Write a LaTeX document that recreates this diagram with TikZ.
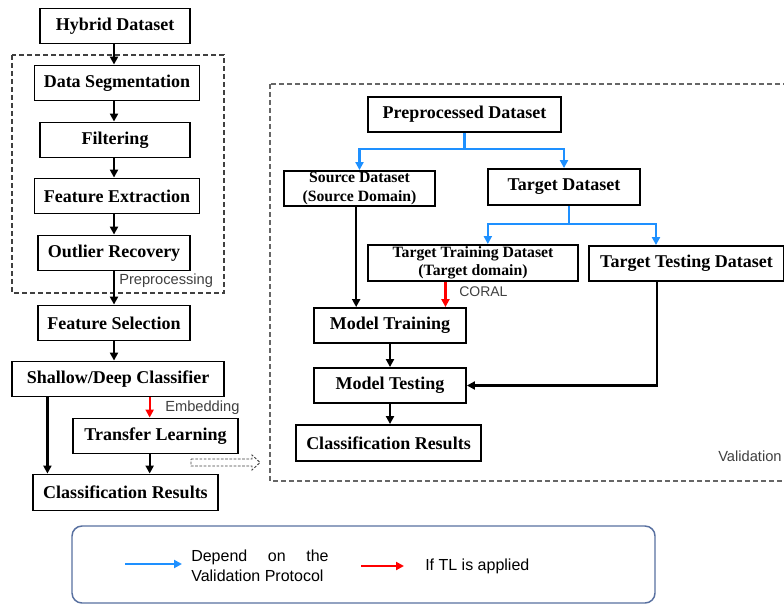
\documentclass[tikz,border=0pt]{standalone}
\usepackage{fontspec}
\setmainfont{Liberation Serif}
\newfontfamily\annofont{Liberation Sans}
\usetikzlibrary{calc,arrows.meta,positioning}

\definecolor{flowblue}{RGB}{30,144,255}
\definecolor{legendframe}{RGB}{88,112,160}

\tikzset{
  procbox/.style={draw, line width=1.4pt, inner sep=0pt, align=center,
    minimum height=26.25pt, font=\fontsize{13.5}{15}\selectfont\bfseries},
  smallbox/.style={procbox, font=\fontsize{11.8}{13.6}\selectfont\bfseries},
  boxw/.style={minimum width=#1*0.75pt},
  flow/.style={line width=1.7pt, -{Triangle[length=6pt,width=6pt]}},
  blueflow/.style={flow, draw=flowblue, line width=1.9pt},
  redflow/.style={flow, draw=red},
  dashbox/.style={draw=black!75, line width=0.8pt, dash pattern=on 3.5pt off 2.5pt},
  anno/.style={font=\annofont\fontsize{11}{13}\selectfont, text=black!75, inner sep=0pt, anchor=west},
  legtext/.style={font=\annofont\fontsize{12}{15}\selectfont, inner sep=0pt, anchor=west, align=left}
}

\begin{document}
\begin{tikzpicture}[x=0.75pt, y=-0.75pt]
  \useasboundingbox (0,0) rectangle (784,606);

  % Left column: pipeline
  \node[procbox, boxw=150] (hyb) at (115,26) {Hybrid Dataset};
  \node[procbox, boxw=165] (seg) at (117,83) {Data Segmentation};
  \node[procbox, boxw=150] (filt) at (115,140) {Filtering};
  \node[procbox, boxw=165] (feat) at (117,196) {Feature Extraction};
  \node[procbox, boxw=152] (outl) at (114,253) {Outlier Recovery};
  \node[procbox, boxw=152] (fsel) at (114,323) {Feature Selection};
  \node[procbox, boxw=212] (clf) at (118,379) {Shallow/Deep Classifier};
  \node[procbox, boxw=165] (tl) at (155.5,436) {Transfer Learning};
  \node[procbox, boxw=185, minimum height=27pt] (res) at (125.5,492.5) {Classification Results};

  % Preprocessing group
  \draw[dashbox] (12,55) rectangle (224,293);
  \node[anno] (preplab) at (119,281) {Preprocessing};

  \draw[flow] (hyb.south -| 114,0) -- (114,0 |- seg.north);
  \draw[flow] (seg.south -| 114,0) -- (114,0 |- filt.north);
  \draw[flow] (filt.south -| 114,0) -- (114,0 |- feat.north);
  \draw[flow] (feat.south -| 114,0) -- (114,0 |- outl.north);
  \draw[flow] (outl.south) -- (fsel.north);
  \draw[flow] (fsel.south) -- (fsel.south |- clf.north);

  % Classifier branches
  \coordinate (c1) at ($(clf.south west)!0.17!(clf.south east)$);
  \draw[flow] (c1) -- (c1 |- res.north);
  \coordinate (c2) at ($(tl.north west)!0.465!(tl.north east)$);
  \draw[redflow] (c2 |- clf.south) -- (c2);
  \node[anno] (emb) at (165,408) {Embedding};
  \draw[flow] (c2 |- tl.south) -- (c2 |- res.north);

  % Dashed hollow arrow to validation
  \draw[black!75, line width=0.7pt, dash pattern=on 2pt off 1.2pt]
    (191,459) -- (252,459) -- (252,455) -- (260,462.5) -- (252,470) -- (252,466) -- (191,466) -- cycle;

  % Validation group
  \draw[dashbox, draw=black!60] (270,84) rectangle (800,481);
  \node[anno] (vallab) at (718,456) {Validation};

  \node[procbox, boxw=193] (pre) at (464.5,114.5) {Preprocessed Dataset};
  \node[smallbox, boxw=151] (src) at (359.5,188.5) {Source Dataset\\(Source Domain)};
  \node[procbox, boxw=152, minimum height=27pt] (tgt) at (564,187) {Target Dataset};
  \node[smallbox, boxw=210, minimum height=27pt] (ttr) at (473,263) {Target Training Dataset\\(Target domain)};
  \node[procbox, boxw=195] (tts) at (686.5,263.5) {Target Testing Dataset};
  \node[procbox, boxw=152] (mtr) at (390,325.5) {Model Training};
  \node[procbox, boxw=152] (mte) at (390,385.5) {Model Testing};
  \node[procbox, boxw=185, minimum height=27pt] (vres) at (388.5,443) {Classification Results};

  % Splits (depend on protocol)
  \draw[blueflow] (pre.south) -- ++(0,16) -| (src.north);
  \draw[blueflow] (pre.south) ++(0,16) -| (tgt.north);
  \coordinate (t1) at ($(ttr.north west)!0.57!(ttr.north east)$);
  \coordinate (t2) at ($(tts.north west)!0.345!(tts.north east)$);
  \draw[blueflow] ([xshift=3.75pt]tgt.south) -- ++(0,18) -| (t1);
  \draw[blueflow] ([xshift=3.75pt]tgt.south) ++(0,18) -| (t2);

  % Training and testing
  \draw[flow] ([xshift=-2.5pt]src.south) -- ([xshift=-2.5pt]src.south |- mtr.north);
  \coordinate (t3) at ($(ttr.south west)!0.37!(ttr.south east)$);
  \draw[redflow] (t3) -- (t3 |- mtr.north);
  \node[anno, font=\annofont\fontsize{10.5}{12}\selectfont] (coral) at (459,292) {CORAL};
  \coordinate (t4) at ($(tts.south west)!0.349!(tts.south east)$);
  \draw[flow] (t4) |- (mte.east);
  \draw[flow] (mtr.south) -- (mte.north);
  \draw[flow] (mte.south) -- (mte.south |- vres.north);

  % Legend
  \draw[legendframe, line width=1.1pt, rounded corners=7.5pt] (72,526) rectangle (655,603);
  \node[legtext] (legblue) at (191,566) {\makebox[103pt][s]{Depend on the}\\Validation Protocol};
  \node[legtext] (legred) at (425,566) {If TL is applied};
  \coordinate (lb) at (125,564);
  \coordinate (lr) at (361,566);
  \draw[blueflow] (lb) -- ++(57,0);
  \draw[redflow] (lr) -- ++(43,0);
\end{tikzpicture}
\end{document}
